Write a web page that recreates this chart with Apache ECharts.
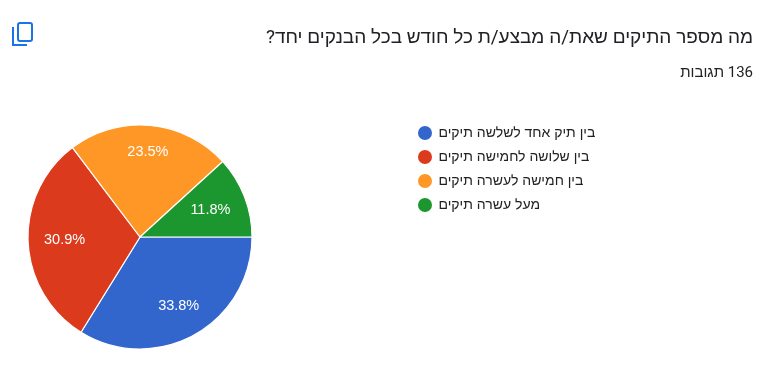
<!DOCTYPE html>
<html dir="rtl"><head><meta charset="utf-8">
<style>html,body{margin:0;padding:0;background:#fff}#c{width:781px;height:383px}</style>
<script src="https://cdn.jsdelivr.net/npm/echarts@6/dist/echarts.min.js"></script>
</head><body><div id="c"></div>
<script>
const categories = ['בין תיק אחד לשלשה תיקים','בין שלושה לחמישה תיקים','בין חמישה לעשרה תיקים','מעל עשרה תיקים'];
const counts = [46,42,32,16];
const pieColors = ['#3366cc','#dc3a1c','#ff9726','#1c962e'];
const titleText = 'מה מספר התיקים שאת/ה מבצע/ת כל חודש בכל הבנקים יחד?';
const subtitleText = '136 תגובות';
const labelRadii = [80,76,86,76];
const chart = echarts.init(document.getElementById('c'), null, {renderer:'canvas'});
const font = 'Roboto, Arial, "Liberation Sans", sans-serif';
const labelFont = '"Liberation Sans", Arial, sans-serif';
const radius = 112;
const total = counts.reduce((a,b)=>a+b,0);
function labelShift(i){
  const before = counts.slice(0,i).reduce((a,b)=>a+b,0);
  const mid = (before + counts[i]/2)/total*2*Math.PI;
  const d = labelRadii[i]-radius/2-3.5;
  return {dx:d*Math.cos(mid), dy:d*Math.sin(mid)};
}
chart.setOption({
  animation:false,
  backgroundColor:'#fff',
  color:pieColors,
  textStyle:{fontFamily:font},
  legend:{
    orient:'vertical', left:416, top:124, icon:'circle',
    itemWidth:17, itemHeight:16, itemGap:6, padding:0, align:'left', selectedMode:false,
    textStyle:{fontSize:14, lineHeight:16, height:16, color:'#222', padding:[0,0,0,0], fontFamily:labelFont}
  },
  graphic:[
    {type:'text', right:28, top:29, style:{text:titleText, fontSize:19, fontFamily:font, fill:'#202124', textAlign:'right'}},
    {type:'text', right:28, top:66, style:{text:subtitleText, fontSize:15, fontFamily:font, fill:'#202124', textAlign:'right'}},
    {type:'rect', shape:{x:18,y:23,width:14,height:18,r:2}, style:{fill:'none', stroke:'#1a73e8', lineWidth:2}},
    {type:'polyline', shape:{points:[[13,27],[13,45],[27,45]]}, style:{fill:'none', stroke:'#1a73e8', lineWidth:2}}
  ],
  series:[{
    type:'pie', center:[140,237], radius:[0,radius], startAngle:0, clockwise:true,
    minAngle:0, avoidLabelOverlap:false,
    itemStyle:{borderColor:'#fff', borderWidth:1.2},
    label:{show:true, position:'inside', formatter:p=>p.percent.toFixed(1)+'%', color:'#fff', fontSize:14.5, fontFamily:labelFont},
    labelLine:{show:false},
    labelLayout:p=>labelShift(p.dataIndex),
    emphasis:{disabled:true},
    data:categories.map((n,i)=>({name:n,value:counts[i]}))
  }]
});
</script></body></html>
